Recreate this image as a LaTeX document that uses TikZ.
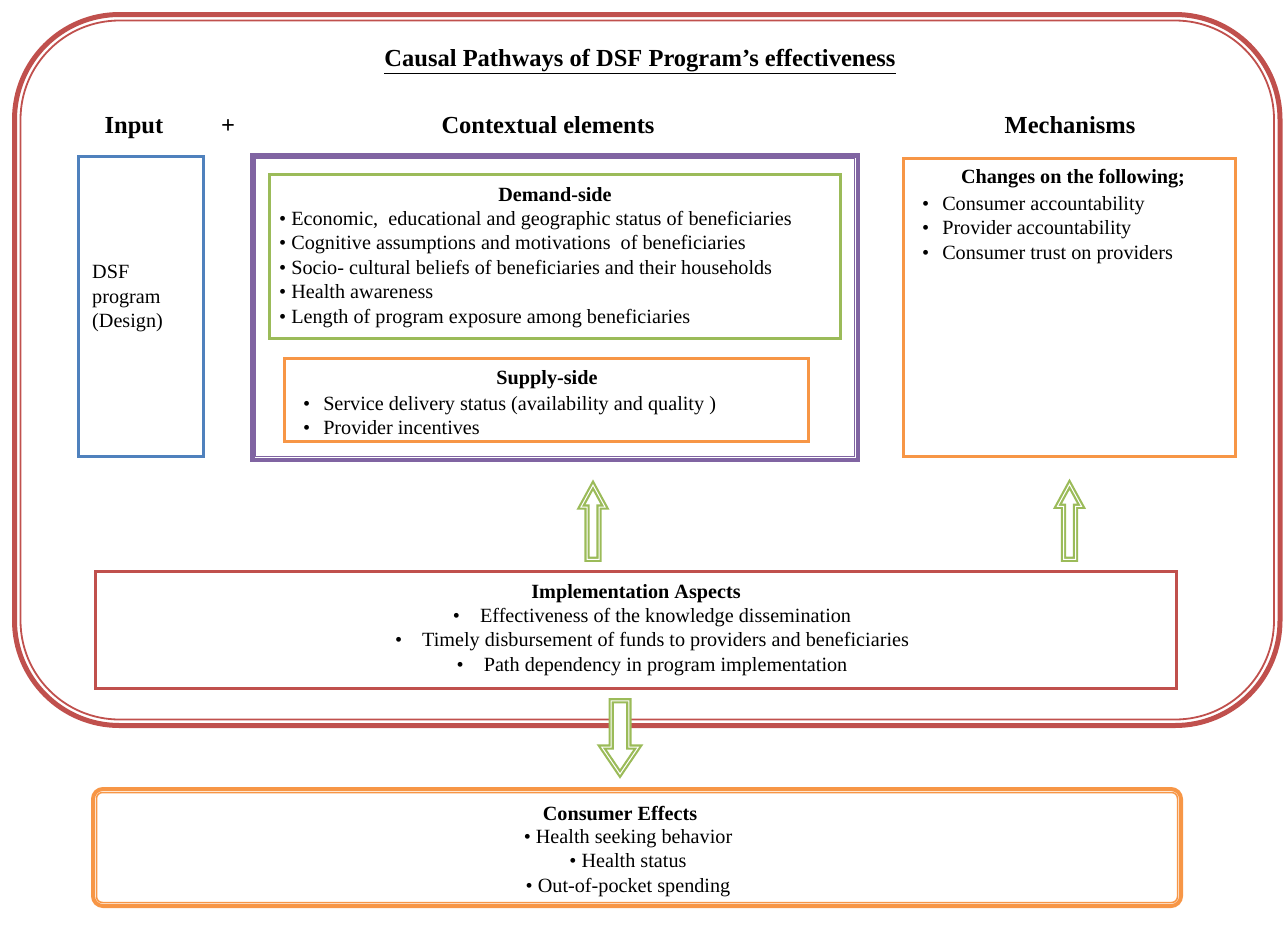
\documentclass[tikz,border=0pt]{standalone}
\usepackage{fontspec}
\setmainfont{Liberation Serif}
\usetikzlibrary{positioning,calc}
\definecolor{framered}{HTML}{C0504D}
\definecolor{inputblue}{HTML}{4F81BD}
\definecolor{contextpurple}{HTML}{8064A2}
\definecolor{demandgreen}{HTML}{9BBB59}
\definecolor{supplyorange}{HTML}{F79646}
\tikzset{
  box/.style={draw=#1, line width=2.5pt, inner sep=0pt},
  head/.style={font=\fontsize{24.5}{29}\selectfont\bfseries, inner sep=0pt},
  subhead/.style={font=\fontsize{20.2}{24.5}\selectfont\bfseries, inner sep=0pt},
  body/.style={font=\fontsize{20.2}{24.5}\selectfont, inner sep=0pt},
  blockarrow/.style n args={3}{draw=demandgreen, fill=white, line width=2.2pt,
    double=white, double distance=1pt,
    to path={let \p1=(\tikztostart), \p2=(\tikztotarget),
      \n1={(\y2-\y1)/abs(\y2-\y1)} in
      ({\x1-#1},\y1) -- ({\x1-#1},{\y2-(\n1)*#3}) -- ({\x1-#2},{\y2-(\n1)*#3}) -- (\x2,\y2)
      -- ({\x1+#2},{\y2-(\n1)*#3}) -- ({\x1+#1},{\y2-(\n1)*#3}) -- ({\x1+#1},\y1) -- cycle}}
}
\begin{document}
\begin{tikzpicture}[x=1pt,y=-1pt]
\useasboundingbox (0,0) rectangle (1287,932);
% outer frame
\draw[framered, line width=5pt, rounded corners=105pt] (14.5,14.5) rectangle (1280,725.5);
\draw[framered, line width=1.8pt, rounded corners=99pt] (20.5,20.5) rectangle (1274,719.5);

\node[head, anchor=base] (title) at (640,66) {\underline{Causal Pathways of DSF Program’s effectiveness}};
\node[head, anchor=base] (inputhead) at (134,133) {Input};
\node[head, anchor=base] (plus) at (228,133) {+};
\node[head, anchor=base] (contexthead) at (548,133) {Contextual elements};
\node[head, anchor=base] (mechhead) at (1070,133) {Mechanisms};

% boxes
\node[box=inputblue, minimum width=125, minimum height=300] (input) at (141,306.5) {};
\node[draw=contextpurple, line width=4.5pt, inner sep=0pt, minimum width=605.5, minimum height=304.5] (context) at (555,307.5) {};
\draw[contextpurple, line width=1.5pt] ([xshift=5.5pt,yshift=-5.5pt]context.north west) rectangle ([xshift=-5.5pt,yshift=5.5pt]context.south east);
\node[box=demandgreen, minimum width=571, minimum height=164] (demand) at (555,256.5) {};
\node[box=supplyorange, minimum width=524, minimum height=83] (supply) at (546.5,400) {};
\node[box=supplyorange, minimum width=332, minimum height=298] (mech) at (1069.5,307.5) {};
\node[box=framered, minimum width=1081, minimum height=117] (impl) at (636,630) {};
\node[draw=supplyorange, line width=4pt, rounded corners=10pt, inner sep=0pt, minimum width=1088, minimum height=117] (effects) at (637,847.5) {};
\draw[supplyorange, line width=1.5pt, rounded corners=6pt] ([xshift=5.5pt,yshift=-5.5pt]effects.north west) rectangle ([xshift=-5.5pt,yshift=5.5pt]effects.south east);

% texts
\node[body, align=left, anchor=north west] (dsf) at (92,265) {DSF\\program\\(Design)};
\node[subhead] (demandhead) at (555,195) {Demand-side};
\node[body, align=left, anchor=north west] (demandtext) at (279,211) {%
  \textbullet{} Economic,\ \ educational and geographic status of beneficiaries\\
  \textbullet{} Cognitive assumptions and motivations\ \ of beneficiaries\\
  \textbullet{} Socio- cultural beliefs of beneficiaries and their households\\
  \textbullet{} Health awareness\\
  \textbullet{} Length of program exposure among beneficiaries};
\node[subhead] (supplyhead) at (547,380) {Supply-side};
\node[body, align=left, anchor=north west] (supplytext) at (303,396) {%
  \textbullet\hspace{13pt}Service delivery status (availability and quality )\\
  \textbullet\hspace{13pt}Provider incentives};
\node[subhead] (mechtitle) at (1073,179) {Changes on the following;};
\node[body, align=left, anchor=north west] (mechtext) at (922,196) {%
  \textbullet\hspace{13pt}Consumer accountability\\
  \textbullet\hspace{13pt}Provider accountability\\
  \textbullet\hspace{13pt}Consumer trust on providers};
\node[subhead] (implhead) at (636,594) {Implementation Aspects};
\node[body, align=center, anchor=north] (impltext) at (652,608) {%
  \textbullet\hspace{20pt}Effectiveness of the knowledge dissemination\\
  \textbullet\hspace{20pt}Timely disbursement of funds to providers and beneficiaries\\
  \textbullet\hspace{20pt}Path dependency in program implementation};
\node[subhead] (effectshead) at (620,813) {Consumer Effects};
\node[body, align=center, anchor=north] (effectstext) at (628,829) {%
  \textbullet{} Health seeking behavior\\
  \textbullet{} Health status\\
  \textbullet{} Out-of-pocket spending};

% arrows
\coordinate (contextarrow) at (593,0);
\coordinate (effectsarrow) at (620,0);
\draw[blockarrow={6pt}{12pt}{22pt}] ($(impl.north -| contextarrow)+(0,-11)$) to ($(context.south -| contextarrow)+(0,23)$);
\draw[blockarrow={6pt}{12pt}{22pt}] ($(impl.north -| mech.south)+(0,-11)$) to ($(mech.south)+(0,26.5)$);
\draw[blockarrow={8.8pt}{18.3pt}{27pt}] ($(impl.south -| effectsarrow)+(0,11)$) to ($(effects.north -| effectsarrow)+(0,-13)$);
\end{tikzpicture}
\end{document}
